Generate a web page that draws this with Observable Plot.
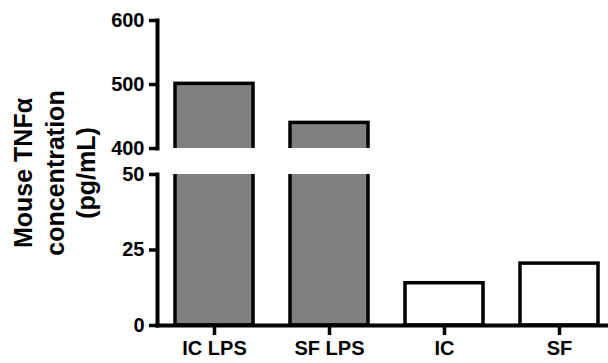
<!DOCTYPE html>
<html>
<head>
<meta charset="utf-8">
<script src="https://cdn.jsdelivr.net/npm/d3@7"></script>
<script src="https://cdn.jsdelivr.net/npm/@observablehq/plot@0.6"></script>
<style>
  html, body { margin: 0; padding: 0; background: white; }
  #chart { position: relative; width: 608px; height: 363px; overflow: hidden; font-family: "Liberation Sans", Arial, sans-serif; }
  #chart svg { position: absolute; left: 0; overflow: visible; }
  #ytitle { position: absolute; left: 55px; top: 173px; transform: translate(-50%, -50%) rotate(-90deg);
    text-align: center; font-weight: bold; font-size: 25px; line-height: 31.5px; white-space: nowrap; color: black; }
</style>
</head>
<body>
<div id="chart">
  <div id="ytitle">Mouse TNFα<br>concentration<br>(pg/mL)</div>
</div>
<script>
const categories = ["IC LPS", "SF LPS", "IC", "SF"];
const values = [501, 440, 14, 20.5];
const treatment = ["LPS", "LPS", "none", "none"];
const topTicks = [400, 500, 600];
const bottomTicks = [0, 25, 50];
const topDomain = [400, 600];
const bottomDomain = [0, 50];

const data = categories.map((c, i) => ({cat: c, value: values[i], treatment: treatment[i]}));

const font = "Liberation Sans, Arial, sans-serif";
const xOpts = {domain: categories, range: [157, 617], paddingInner: 0.32, paddingOuter: 0.16};
const colorOpts = {domain: ["LPS", "none"], range: ["#808080", "#ffffff"]};

function bars() {
  return Plot.barY(data, {x: "cat", y: "value", fill: "treatment", stroke: "black", strokeWidth: 3.5, clip: true});
}

const upperPlot = Plot.plot({
  width: 608, height: 152, marginTop: 20, marginBottom: 4, marginLeft: 157, marginRight: 0,
  style: {fontFamily: font, background: "transparent", overflow: "visible"},
  x: {...xOpts, axis: null},
  y: {domain: topDomain, axis: null},
  color: colorOpts,
  marks: [
    bars(),
    Plot.frame({anchor: "left", strokeWidth: 4, stroke: "black"}),
    Plot.axisY({ticks: topTicks, tickSize: 8, tickPadding: 5, fontSize: 20, fontWeight: "bold", strokeWidth: 3.5, label: null, fill: "black"})
  ]
});
upperPlot.style.top = "0px";

const lowerPlot = Plot.plot({
  width: 608, height: 211, marginTop: 22, marginBottom: 38, marginLeft: 157, marginRight: 0,
  style: {fontFamily: font, background: "transparent", overflow: "visible"},
  x: {...xOpts},
  y: {domain: bottomDomain, axis: null},
  color: colorOpts,
  marks: [
    bars(),
    Plot.frame({anchor: "left", strokeWidth: 4, stroke: "black"}),
    Plot.frame({anchor: "bottom", strokeWidth: 4, stroke: "black"}),
    Plot.axisY({ticks: bottomTicks, tickSize: 8, tickPadding: 5, fontSize: 20, fontWeight: "bold", strokeWidth: 3.5, label: null, fill: "black"}),
    Plot.axisX({tickSize: 10, tickPadding: 5, fontSize: 20, fontWeight: "bold", strokeWidth: 3.5, label: null, fill: "black"})
  ]
});
lowerPlot.style.top = "152px";

// enforce heavy axis line styling
for (const svg of [upperPlot, lowerPlot]) {
  d3.select(svg).selectAll('[aria-label="frame"], [aria-label="frame"] *')
    .attr("stroke-width", 4).attr("stroke", "black").style("stroke-width", "4px");
  d3.select(svg).selectAll('[aria-label$="tick"], [aria-label$="tick"] *')
    .attr("stroke-width", 3.5).attr("stroke", "black").style("stroke-width", "3.5px");
}

const chart = document.getElementById("chart");
chart.appendChild(upperPlot);
chart.appendChild(lowerPlot);
</script>
</body>
</html>
